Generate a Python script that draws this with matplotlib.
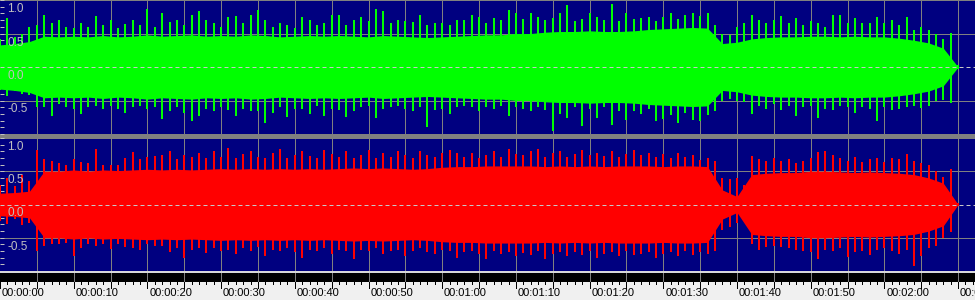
import numpy as np
import matplotlib.pyplot as plt
from matplotlib import transforms

plt.rcParams['font.family'] = ['Liberation Sans', 'DejaVu Sans']

# peak readings, one per second (0 .. 130 s)
seconds = np.arange(131)

left_up = np.array([
    0.42, 0.73, 0.45, 0.50, 0.60, 0.62, 0.77, 0.65, 0.70, 0.60,
    0.58, 0.66, 0.60, 0.76, 0.62, 0.70, 0.58, 0.64, 0.70, 0.62,
    0.86, 0.60, 0.80, 0.67, 0.70, 0.62, 0.78, 0.83, 0.70, 0.65,
    0.60, 0.75, 0.76, 0.65, 0.77, 0.85, 0.70, 0.60, 0.66, 0.62,
    0.58, 0.75, 0.70, 0.62, 0.65, 0.78, 0.78, 0.62, 0.70, 0.75,
    0.68, 0.86, 0.83, 0.65, 0.70, 0.68, 0.67, 0.78, 0.62, 0.66,
    0.65, 0.63, 0.70, 0.70, 0.78, 0.75, 0.66, 0.73, 0.70, 0.85,
    0.80, 0.72, 0.80, 0.75, 0.70, 0.73, 0.80, 0.93, 0.68, 0.72,
    0.80, 0.75, 0.70, 0.94, 0.68, 0.80, 0.72, 0.73, 0.74, 0.68,
    0.75, 0.80, 0.72, 0.78, 0.80, 0.76, 0.81, 0.62, 0.50, 0.48,
    0.60, 0.65, 0.78, 0.70, 0.65, 0.70, 0.76, 0.65, 0.73, 0.62,
    0.68, 0.65, 0.60, 0.78, 0.78, 0.65, 0.73, 0.65, 0.65, 0.75,
    0.65, 0.70, 0.62, 0.75, 0.55, 0.60, 0.55, 0.50, 0.42, 0.51,
    0.03])
left_down = np.array([
    0.35, 0.43, 0.36, 0.40, 0.42, 0.60, 0.60, 0.73, 0.55, 0.60,
    0.62, 0.70, 0.60, 0.58, 0.62, 0.58, 0.63, 0.68, 0.60, 0.58,
    0.63, 0.60, 0.78, 0.65, 0.60, 0.68, 0.80, 0.73, 0.62, 0.65,
    0.60, 0.64, 0.73, 0.62, 0.66, 0.65, 0.83, 0.68, 0.60, 0.74,
    0.62, 0.63, 0.70, 0.58, 0.73, 0.63, 0.64, 0.75, 0.65, 0.60,
    0.58, 0.76, 0.62, 0.60, 0.58, 0.63, 0.65, 0.60, 0.90, 0.64,
    0.63, 0.70, 0.60, 0.58, 0.60, 0.66, 0.60, 0.62, 0.58, 0.73,
    0.60, 0.62, 0.66, 0.60, 0.64, 0.95, 0.70, 0.76, 0.60, 0.88,
    0.62, 0.76, 0.60, 0.86, 0.65, 0.79, 0.66, 0.70, 0.62, 0.81,
    0.77, 0.72, 0.84, 0.68, 0.79, 0.80, 0.72, 0.66, 0.50, 0.48,
    0.50, 0.52, 0.70, 0.58, 0.62, 0.55, 0.64, 0.58, 0.73, 0.60,
    0.58, 0.76, 0.62, 0.64, 0.58, 0.60, 0.68, 0.60, 0.62, 0.81,
    0.60, 0.64, 0.62, 0.60, 0.58, 0.61, 0.58, 0.50, 0.49, 0.53,
    0.03])
right_up = np.array([
    0.30, 0.40, 0.28, 0.45, 0.35, 0.82, 0.68, 0.66, 0.62, 0.60,
    0.69, 0.64, 0.62, 0.84, 0.60, 0.60, 0.60, 0.70, 0.79, 0.68,
    0.72, 0.73, 0.75, 0.81, 0.68, 0.75, 0.72, 0.78, 0.70, 0.80,
    0.72, 0.85, 0.70, 0.76, 0.80, 0.72, 0.70, 0.78, 0.84, 0.70,
    0.75, 0.80, 0.73, 0.70, 0.82, 0.76, 0.72, 0.80, 0.70, 0.75,
    0.82, 0.70, 0.77, 0.72, 0.80, 0.74, 0.70, 0.80, 0.74, 0.72,
    0.78, 0.82, 0.77, 0.72, 0.78, 0.70, 0.75, 0.80, 0.72, 0.84,
    0.76, 0.75, 0.80, 0.83, 0.72, 0.78, 0.80, 0.72, 0.76, 0.82,
    0.75, 0.78, 0.73, 0.80, 0.72, 0.76, 0.82, 0.74, 0.78, 0.72,
    0.76, 0.70, 0.78, 0.72, 0.74, 0.67, 0.70, 0.65, 0.40, 0.38,
    0.40, 0.30, 0.73, 0.68, 0.66, 0.70, 0.65, 0.68, 0.62, 0.66,
    0.70, 0.79, 0.80, 0.74, 0.70, 0.66, 0.72, 0.64, 0.68, 0.70,
    0.64, 0.70, 0.68, 0.76, 0.65, 0.62, 0.60, 0.50, 0.42, 0.53,
    0.03])
right_down = np.array([
    0.25, 0.30, 0.22, 0.31, 0.28, 0.70, 0.62, 0.60, 0.60, 0.58,
    0.77, 0.65, 0.60, 0.62, 0.60, 0.67, 0.60, 0.64, 0.66, 0.68,
    0.60, 0.62, 0.63, 0.72, 0.65, 0.80, 0.68, 0.66, 0.73, 0.65,
    0.70, 0.68, 0.75, 0.66, 0.70, 0.64, 0.78, 0.68, 0.70, 0.66,
    0.72, 0.80, 0.68, 0.70, 0.66, 0.74, 0.68, 0.70, 0.82, 0.68,
    0.70, 0.66, 0.74, 0.70, 0.68, 0.78, 0.70, 0.66, 0.72, 0.75,
    0.68, 0.70, 0.80, 0.72, 0.70, 0.74, 0.82, 0.70, 0.75, 0.72,
    0.78, 0.73, 0.76, 0.70, 0.82, 0.74, 0.72, 0.78, 0.72, 0.76,
    0.70, 0.80, 0.74, 0.72, 0.78, 0.70, 0.76, 0.74, 0.72, 0.80,
    0.74, 0.72, 0.78, 0.70, 0.76, 0.72, 0.75, 0.70, 0.38, 0.34,
    0.28, 0.25, 0.60, 0.68, 0.64, 0.62, 0.64, 0.66, 0.68, 0.70,
    0.72, 0.82, 0.68, 0.70, 0.66, 0.79, 0.72, 0.70, 0.76, 0.68,
    0.65, 0.70, 0.74, 0.68, 0.92, 0.78, 0.66, 0.62, 0.50, 0.42,
    0.03])

# dense "body" level of the waveform, every 2 s
body_times = np.arange(0, 131, 2)
left_body = np.array([
    0.33, 0.35, 0.38, 0.46, 0.45, 0.46, 0.45, 0.47, 0.45, 0.46, 0.48, 0.46,
    0.47, 0.48, 0.46, 0.47, 0.46, 0.48, 0.47, 0.45, 0.46, 0.47, 0.46,
    0.47, 0.46, 0.45, 0.47, 0.46, 0.45, 0.44, 0.45, 0.46, 0.47, 0.48,
    0.48, 0.50, 0.50, 0.52, 0.53, 0.53, 0.54, 0.53, 0.53, 0.54,
    0.56, 0.57, 0.58, 0.59, 0.58, 0.35, 0.37, 0.42, 0.44, 0.45, 0.45,
    0.46, 0.46, 0.45, 0.46, 0.45, 0.45, 0.43, 0.40, 0.36, 0.28, 0.0])
right_body = np.array([
    0.17, 0.18, 0.20, 0.50, 0.50, 0.52, 0.50, 0.52, 0.51, 0.52, 0.53, 0.52,
    0.53, 0.52, 0.53, 0.54, 0.53, 0.54, 0.53, 0.54, 0.53, 0.54, 0.53,
    0.54, 0.55, 0.54, 0.55, 0.54, 0.53, 0.54, 0.56, 0.57, 0.57, 0.58,
    0.58, 0.58, 0.58, 0.57, 0.58, 0.57, 0.58, 0.57, 0.58, 0.58,
    0.58, 0.57, 0.58, 0.58, 0.57, 0.22, 0.12, 0.45, 0.47, 0.48, 0.48,
    0.50, 0.50, 0.49, 0.48, 0.49, 0.48, 0.47, 0.45, 0.40, 0.32, 0.0])

amp_labels = [1.0, 0.5, 0.0, -0.5]

PX_PER_S = 7.37
xmax = 975 / PX_PER_S
px = 0.72  # one pixel in points

navy = '#000080'
grid_gray = '#808080'

fig = plt.figure(figsize=(9.75, 3.0), dpi=100)
fig.patch.set_facecolor(grid_gray)


def channel(rect, ylim, up, down, body, color):
    ax = fig.add_axes(rect)
    ax.set_facecolor(navy)
    ax.set_xlim(0, xmax)
    ax.set_ylim(*ylim)
    for sp in ax.spines.values():
        sp.set_visible(False)
    ax.set_xticks([])
    ax.set_yticks(np.round(np.arange(-1.0, 1.01, 0.1), 1))
    ax.tick_params(axis='y', direction='in', length=3, width=px,
                   color='#c0c0c0', labelleft=False)

    ax.vlines(np.arange(5, xmax, 5), -1.1, 1.1, color=grid_gray, lw=px,
              zorder=0.5, antialiased=False)
    for v in (-1.0, -0.5, 0.5, 1.0):
        ax.axhline(v, color=grid_gray, lw=px, zorder=0.5, antialiased=False)

    ax.fill_between(body_times, -body, body, color=color, lw=0, zorder=2)
    ax.vlines(seconds, -down, up, color=color, lw=2 * px, zorder=2,
              antialiased=False)
    ax.axhline(0, color='#c8c8c8', lw=px, dashes=(4, 3), zorder=3)

    tr = transforms.blended_transform_factory(ax.transAxes, ax.transData)
    tr = transforms.offset_copy(tr, fig=fig, y=-3, units='dots')
    for v in amp_labels:
        ax.text(7 / 975, v, f'{v:.1f}', transform=tr, ha='left', va='top',
                fontsize=8.5, color='#c0c0c0', zorder=4)
    return ax


channel([0, 166 / 300, 1, 134 / 300], (-0.985, 1.0),
        left_up, left_down, left_body, '#00ff00')
channel([0, 29 / 300, 1, 133 / 300], (-0.985, 0.97),
        right_up, right_down, right_body, '#ff0000')

# time ruler
rul = fig.add_axes([0, 0, 1, 29 / 300])
rul.set_xlim(0, xmax)
rul.set_ylim(0, 29)
rul.axis('off')
rul.axhspan(0, 18.5, color='#f0f0f0', lw=0)
rul.axhspan(18.5, 27.5, color='black', lw=0)
rul.axhspan(27.5, 29, color='#d8d8d8', lw=0)
rul.vlines(np.arange(5, xmax, 5), 18.5, 27.5, color=grid_gray, lw=px,
           antialiased=False)
rul.vlines(np.arange(0, xmax, 1), 16.3, 18.5, color='black', lw=px,
           antialiased=False)
rul.vlines(np.arange(0, xmax, 5), 12.0, 18.5, color='black', lw=px,
           antialiased=False)
for t in range(0, 131, 10):
    rul.text(t + 0.25, 12.3, f'00:{t // 60:02d}:{t % 60:02d}',
             ha='left', va='top', fontsize=8, color='black')

fig.savefig('out.png', dpi=100)
